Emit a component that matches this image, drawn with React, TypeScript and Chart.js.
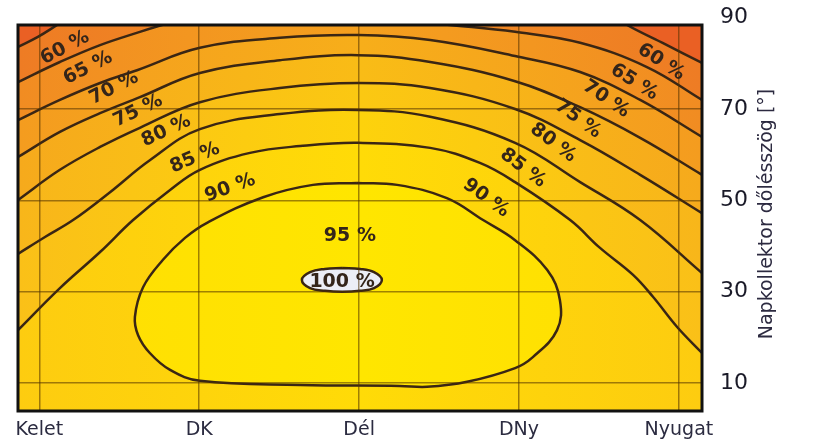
import { useEffect, useRef } from 'react';
import { Chart, registerables } from 'chart.js';

Chart.register(...registerables);

// ---------------- data ----------------
const orientationLabels = ['Kelet', 'DK', 'Dél', 'DNy', 'Nyugat'];
const orientationAzimuths = [-90, -45, 0, 45, 90];
const tiltTicks = [10, 30, 50, 70, 90];
const tiltAxisTitle = 'Napkollektor dőlésszög [°]';
const efficiencyLevels = [60, 65, 70, 75, 80, 85, 90, 95, 100];

type P = [number, number]; // [azimuth °, tilt °]

const contour60: P[] = [[-96, 83.6], [-90.4, 85.8], [-85, 88.4], [-78.6, 91.5], [69.2, 91.5], [75.4, 88.4], [86.1, 84.2], [96.5, 80.1]];
const contour65: P[] = [[-96, 75.9], [-84.2, 80.3], [-72.9, 84.0], [-61.7, 86.9], [-55.5, 88.4], [-44.8, 90.8], [5.9, 89.9], [25.6, 88.4], [43.9, 86.9], [62.2, 84.5], [81.0, 79.2], [96.5, 72.0]];
const contour70: P[] = [[-96, 67.6], [-84.2, 72.0], [-72.9, 75.7], [-62.5, 78.5], [-44.8, 83.4], [-22.3, 85.6], [-0.3, 86.2], [20.0, 85.1], [43.9, 81.6], [62.2, 78.1], [79.1, 72.0], [96.5, 63.9]];
const contour75: P[] = [[-96, 59.5], [-84.2, 65.0], [-72.9, 69.1], [-61.7, 72.6], [-44.8, 77.9], [-22.3, 80.7], [-0.3, 81.8], [20.0, 80.3], [43.9, 76.1], [62.2, 70.4], [79.1, 63.7], [96.5, 55.6]];
const contour80: P[] = [[-96, 50.1], [-84.2, 56.7], [-72.9, 61.7], [-61.7, 65.9], [-44.8, 71.5], [-22.3, 74.6], [-0.3, 75.7], [20.0, 74.6], [43.9, 70.0], [62.2, 63.2], [79.1, 55.6], [96.5, 47.2]];
const contour85: P[] = [[-96, 38.3], [-88.4, 42.0], [-80.5, 45.7], [-70.1, 51.8], [-58.9, 58.8], [-44.8, 65.6], [-22.3, 68.9], [-0.3, 69.8], [20.0, 68.3], [43.9, 62.6], [62.2, 54.0], [79.1, 45.7], [96.5, 34.1]];
const contour90: P[] = [[-96, 21.6], [-84.2, 30.8], [-72.9, 38.7], [-63.6, 45.7], [-53.2, 52.3], [-44.8, 56.7], [-30.7, 60.4], [-16.6, 61.9], [-0.3, 62.6], [20.0, 61.5], [34.0, 58.2], [43.9, 54.0], [59.4, 45.7], [67.8, 39.6], [77.1, 33.7], [82.7, 28.9], [89.5, 22.3], [96.5, 16.6]];
const contour95: P[] = [[-0.6, 53.8], [10.7, 53.4], [24.7, 50.5], [34.9, 45.7], [43.9, 41.3], [52.9, 34.8], [56.5, 28.2], [55.7, 21.6], [48.9, 15.7], [43.9, 13.3], [30.4, 10.3], [19.1, 9.2], [11.5, 9.4], [-16.6, 9.6], [-44.8, 10.5], [-53.2, 12.9], [-58.9, 16.6], [-62.2, 20.5], [-63.1, 24.5], [-60.8, 31.0], [-55.2, 37.0], [-49.0, 41.8], [-42.8, 45.1], [-27.0, 50.7], [-13.0, 53.4], [-0.6, 53.8]];
const contour100: P[] = [[-4.8, 35.2], [0.3, 35.0], [4.2, 34.3], [6.4, 32.6], [4.2, 30.8], [0.3, 30.2], [-4.8, 30.0], [-9.6, 30.2], [-13.8, 30.8], [-16.1, 32.6], [-13.8, 34.3], [-9.6, 35.0], [-4.8, 35.2]];

const contourByLevel: Record<number, P[]> = {
  60: contour60, 65: contour65, 70: contour70, 75: contour75, 80: contour80,
  85: contour85, 90: contour90, 95: contour95, 100: contour100,
};

// ---------------- styling / layout ----------------
const BELOW_60_COLOR = '#EA6024';
// [centre colour, side colour] of the band that starts at each level
const BAND_FILL: Record<number, [string, string]> = {
  60: ['#F28E22', '#EE7C24'],
  65: ['#F5A01E', '#F18C22'],
  70: ['#F7AE1A', '#F49C1F'],
  75: ['#F9BC16', '#F6AA1C'],
  80: ['#FBC812', '#F8B61A'],
  85: ['#FDD20C', '#FAC018'],
  90: ['#FFDB07', '#FDCC10'],
  95: ['#FFE600', '#FFDD04'],
  100: ['#ECEEF6', '#ECEEF6'],
};
const LINE_COLOR = '#3a2614';
const GRID_COLOR = 'rgba(80,50,0,0.55)';
const TEXT_FONT = '"DejaVu Sans", Verdana, sans-serif';

// label placement (annotation layout): azimuth, tilt, rotation in degrees
const LABEL_PLACEMENT = [
  { level: 60, az: -82.8, tilt: 83.4, angle: -28 },
  { level: 65, az: -76.3, tilt: 79.0, angle: -27 },
  { level: 70, az: -69.0, tilt: 74.6, angle: -27 },
  { level: 75, az: -62.2, tilt: 69.6, angle: -26 },
  { level: 80, az: -54.3, tilt: 65.2, angle: -25 },
  { level: 85, az: -46.2, tilt: 59.3, angle: -23 },
  { level: 90, az: -36.3, tilt: 52.7, angle: -20 },
  { level: 60, az: 85.0, tilt: 80.3, angle: 33 },
  { level: 65, az: 77.4, tilt: 75.9, angle: 32 },
  { level: 70, az: 69.5, tilt: 72.2, angle: 34 },
  { level: 75, az: 61.6, tilt: 67.8, angle: 36 },
  { level: 80, az: 54.6, tilt: 62.6, angle: 37 },
  { level: 85, az: 46.1, tilt: 57.1, angle: 37 },
  { level: 90, az: 35.7, tilt: 50.5, angle: 36 },
  { level: 95, az: -2.6, tilt: 42.2, angle: 0 },
  { level: 100, az: -4.8, tilt: 32.1, angle: 0 },
];

function bandFill(level: number) {
  return (c: any) => {
    const chart = c.chart;
    const a = chart.chartArea;
    const [mid, side] = BAND_FILL[level];
    if (!a) return mid;
    const g = chart.ctx.createLinearGradient(a.left, 0, a.right, 0);
    g.addColorStop(0, side);
    g.addColorStop(0.5, mid);
    g.addColorStop(1, side);
    return g;
  };
}

const overlayPlugin = {
  id: 'overlay',
  beforeDatasetsDraw(chart: any) {
    const { ctx, chartArea: a } = chart;
    ctx.save();
    ctx.fillStyle = BELOW_60_COLOR;
    ctx.fillRect(a.left, a.top, a.right - a.left, a.bottom - a.top);
    ctx.restore();
  },
  afterDraw(chart: any) {
    const { ctx, chartArea: a, scales } = chart;
    // contour labels
    ctx.save();
    ctx.beginPath();
    ctx.rect(a.left, a.top, a.right - a.left, a.bottom - a.top);
    ctx.clip();
    ctx.font = `bold 19px ${TEXT_FONT}`;
    ctx.fillStyle = '#34251a';
    ctx.textAlign = 'center';
    ctx.textBaseline = 'middle';
    for (const lab of LABEL_PLACEMENT) {
      const px = scales.x.getPixelForValue(lab.az);
      const py = scales.y.getPixelForValue(lab.tilt);
      ctx.save();
      ctx.translate(px, py);
      ctx.rotate((lab.angle * Math.PI) / 180);
      ctx.fillText(`${lab.level} %`, 0, 0);
      ctx.restore();
    }
    ctx.restore();
    // frame
    ctx.save();
    ctx.strokeStyle = '#111111';
    ctx.lineWidth = 3;
    ctx.strokeRect(a.left, a.top, a.right - a.left, a.bottom - a.top);
    ctx.restore();
    // rotated axis title (reads bottom to top)
    ctx.save();
    ctx.translate(a.right + 65, (a.top + a.bottom) / 2 - 4);
    ctx.rotate(-Math.PI / 2);
    ctx.font = `19px ${TEXT_FONT}`;
    ctx.fillStyle = '#2c2a40';
    ctx.textAlign = 'center';
    ctx.textBaseline = 'middle';
    ctx.fillText(tiltAxisTitle, 0, 0);
    ctx.restore();
  },
};

export default function App() {
  const ref = useRef<HTMLCanvasElement>(null);
  useEffect(() => {
    const canvas = ref.current;
    if (!canvas) return;
    const datasets = efficiencyLevels.map((level) => {
      const closed = level >= 95;
      return {
        label: `${level} %`,
        data: contourByLevel[level].map(([x, y]) => ({ x, y })),
        showLine: true,
        fill: closed ? 'shape' : 'start',
        backgroundColor: bandFill(level),
        borderColor: LINE_COLOR,
        borderWidth: 2.5,
        pointRadius: 0,
        pointHoverRadius: 0,
        tension: 0.4,
        order: 200 - level,
      };
    });
    const chart = new Chart(canvas, {
      type: 'scatter',
      data: { datasets: datasets as any },
      options: {
        animation: false,
        responsive: false,
        events: [],
        layout: { padding: { left: 18, top: 25, right: 0, bottom: 0 } },
        plugins: { legend: { display: false }, tooltip: { enabled: false } },
        scales: {
          x: {
            type: 'linear',
            min: -96,
            max: 96.5,
            afterBuildTicks: (s: any) => {
              s.ticks = orientationAzimuths.map((v) => ({ value: v }));
            },
            afterFit: (s: any) => {
              s.height = 36;
              s.paddingLeft = 0;
              s.paddingRight = 0;
            },
            ticks: {
              autoSkip: false,
              maxRotation: 0,
              padding: 8,
              color: '#2b2b40',
              font: { family: TEXT_FONT, size: 19 },
              callback: (v: any) => orientationLabels[orientationAzimuths.indexOf(Number(v))] ?? '',
            },
            grid: { color: GRID_COLOR, lineWidth: 1.5, drawTicks: false, z: 1 },
            border: { display: false },
          },
          y: {
            type: 'linear',
            position: 'right',
            min: 3.9,
            max: 88.4,
            afterBuildTicks: (s: any) => {
              s.ticks = tiltTicks.map((v) => ({ value: v }));
            },
            afterFit: (s: any) => {
              s.width = 113;
              s.paddingTop = 0;
              s.paddingBottom = 0;
            },
            ticks: {
              padding: 18,
              color: '#1a1a28',
              font: { family: TEXT_FONT, size: 22 },
              callback: (v: any) => String(v),
            },
            grid: {
              color: (c: any) => (c.tick && c.tick.value === 90 ? 'rgba(0,0,0,0)' : GRID_COLOR),
              lineWidth: 1.5,
              drawTicks: false,
              z: 1,
            },
            border: { display: false },
          },
        },
      } as any,
      plugins: [overlayPlugin],
    });
    return () => chart.destroy();
  }, []);
  return (
    <div style={{ position: 'fixed', left: 0, top: 0, width: 815, height: 447, background: '#ffffff' }}>
      <canvas ref={ref} width={815} height={447} style={{ display: 'block', width: 815, height: 447 }} />
    </div>
  );
}
